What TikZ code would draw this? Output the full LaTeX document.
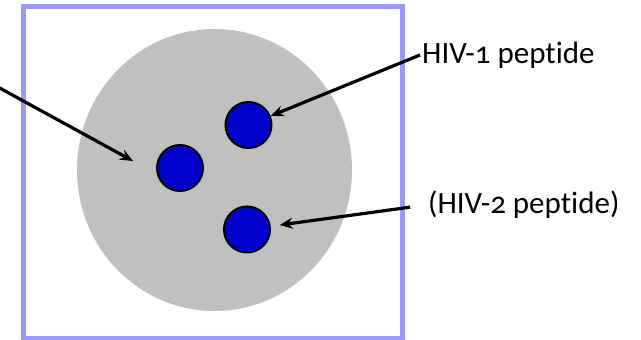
\documentclass[tikz,border=0pt]{standalone}
\usepackage{fontspec}
\setmainfont{Carlito}[Numbers=OldStyle, Ligatures=NoCommon]
\usetikzlibrary{arrows.meta}
\definecolor{framelav}{RGB}{153,153,255}
\definecolor{cellgray}{RGB}{192,192,192}
\definecolor{dotblue}{RGB}{0,0,204}

\begin{document}
\begin{tikzpicture}[x=1pt, y=-1pt,
    peptide/.style={circle, draw=black, fill=dotblue, line width=2pt, minimum size=46pt, inner sep=0pt},
    tag/.style={anchor=west, inner sep=2pt, font=\fontsize{31}{36}\selectfont},
    pointer/.style={line width=3.2pt, -{Stealth[length=13pt, width=11pt]}}
]
    \useasboundingbox (0,0) rectangle (641,340);
    \draw[framelav, line width=5pt] (23,6.5) rectangle (402,338);
    \fill[cellgray] (214.5,170) ellipse [x radius=137.5, y radius=141];

    \node[peptide] (pepa) at (248.5,125) {};
    \node[peptide] (pepb) at (180,168) {};
    \node[peptide] (pepc) at (247,229.5) {};

    \node[tag] (hivone) at (420,55) {HIV-1 peptide};
    \node[tag] (hivtwo) at (426,205) {(HIV-2 peptide)};

    \coordinate (offleft) at (-4,86);
    \coordinate (inside) at (133,161);

    \draw[pointer] (offleft) -- (inside);
    \draw[pointer] (hivone.west) -- (pepa);
    \draw[pointer, shorten <=16pt, shorten >=9pt] (hivtwo.west) -- (pepc);
\end{tikzpicture}
\end{document}
